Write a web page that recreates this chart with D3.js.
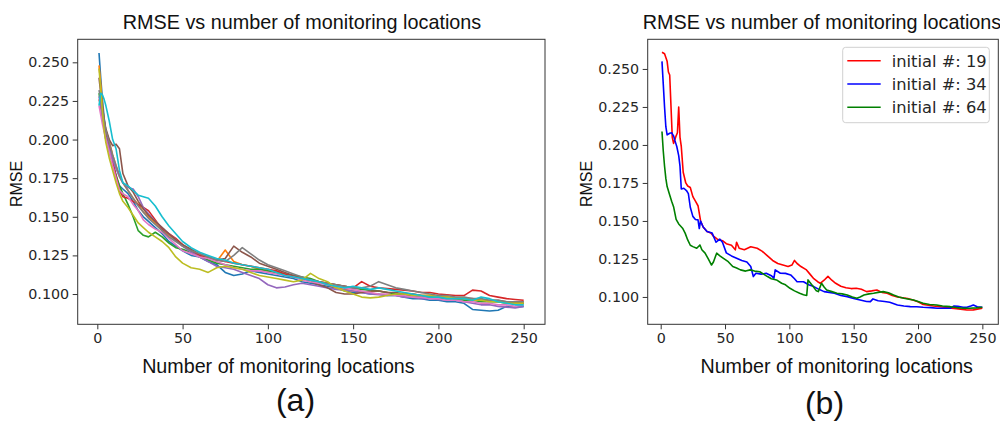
<!DOCTYPE html>
<html><head><meta charset="utf-8">
<script src="https://cdn.jsdelivr.net/npm/d3@7"></script>
<style>html,body{margin:0;padding:0;background:#fff;} svg{display:block;}</style>
</head><body>
<svg id="chart" width="1000" height="423"></svg>
<script>
// ---------- text ----------
const titleText = "RMSE vs number of monitoring locations";
const xLabelText = "Number of monitoring locations";
const yLabelText = "RMSE";
const panelLabels = ["(a)", "(b)"];
const xTickValues = [0, 50, 100, 150, 200, 250];
const yTickValues = [0.100, 0.125, 0.150, 0.175, 0.200, 0.225, 0.250];

// ---------- panel (a): 10 runs ----------
const locA = [1,2,3,4,5,7,9,11,13,15,18,21,24,27,30,34,38,42,46,50,
  55,60,65,70,75,80,85,90,95,100,105,110,115,120,125,130,135,140,145,150,
  155,160,165,170,175,180,185,190,195,200,205,210,215,220,225,230,235,240,245,250];
const runA1 = [0.256,0.240,0.226,0.214,0.205, 0.194,0.185,0.176,0.170,0.168, 0.165,0.160,0.154,0.150,0.147, 0.143,0.139,0.134,0.131,0.128,
  0.125,0.124,0.121,0.119,0.114, 0.112,0.113,0.115,0.114,0.113, 0.112,0.111,0.110,0.108,0.107, 0.106,0.105,0.104,0.102,0.101,
  0.101,0.100,0.100,0.099,0.099, 0.098,0.097,0.097,0.096,0.096, 0.095,0.095,0.094,0.090,0.0895, 0.089,0.0895,0.092,0.0915,0.092];
const runA2 = [0.248,0.236,0.222,0.212,0.206, 0.199,0.190,0.183,0.176,0.172, 0.167,0.162,0.158,0.153,0.150, 0.146,0.141,0.138,0.135,0.131,
  0.128,0.125,0.123,0.121,0.1285, 0.121,0.119,0.118,0.116,0.115, 0.114,0.112,0.111,0.110,0.109, 0.108,0.106,0.104,0.103,0.102,
  0.101,0.1015,0.102,0.101,0.100, 0.1005,0.100,0.099,0.099,0.098, 0.098,0.097,0.097,0.096,0.096, 0.0955,0.095,0.095,0.0945,0.094];
const runA3 = [0.230,0.222,0.214,0.207,0.200, 0.192,0.184,0.177,0.170,0.165, 0.158,0.150,0.141,0.138,0.137, 0.140,0.137,0.133,0.130,0.129,
  0.127,0.124,0.122,0.120,0.119, 0.118,0.117,0.116,0.116,0.115, 0.114,0.113,0.112,0.111,0.110, 0.108,0.107,0.106,0.105,0.104,
  0.103,0.1025,0.102,0.101,0.100, 0.099,0.099,0.098,0.098,0.097, 0.097,0.097,0.096,0.096,0.095, 0.095,0.095,0.094,0.094,0.094];
const runA4 = [0.226,0.222,0.216,0.210,0.204, 0.196,0.186,0.176,0.167,0.163, 0.162,0.160,0.158,0.156,0.154, 0.148,0.142,0.139,0.136,0.132,
  0.128,0.125,0.124,0.122,0.121, 0.120,0.119,0.118,0.117,0.116, 0.115,0.113,0.111,0.110,0.109, 0.108,0.107,0.106,0.105,0.104,
  0.108,0.105,0.104,0.1035,0.103, 0.1025,0.102,0.101,0.101,0.100, 0.0995,0.099,0.099,0.1025,0.102, 0.099,0.098,0.097,0.0965,0.096];
const runA5 = [0.228,0.222,0.215,0.208,0.202, 0.194,0.187,0.181,0.176,0.172, 0.169,0.168,0.163,0.156,0.152, 0.147,0.143,0.139,0.135,0.131,
  0.127,0.124,0.121,0.118,0.117, 0.116,0.114,0.112,0.110,0.106, 0.104,0.1045,0.106,0.107,0.106, 0.105,0.104,0.103,0.1025,0.102,
  0.101,0.100,0.0995,0.099,0.099, 0.098,0.098,0.097,0.097,0.0965, 0.096,0.096,0.095,0.094,0.093, 0.093,0.092,0.0915,0.091,0.092];
const runA6 = [0.240,0.230,0.221,0.213,0.207, 0.200,0.196,0.197,0.194,0.178, 0.170,0.166,0.160,0.155,0.151, 0.147,0.143,0.139,0.135,0.132,
  0.129,0.126,0.124,0.122,0.123, 0.131,0.127,0.124,0.120,0.118, 0.116,0.114,0.112,0.110,0.108, 0.106,0.104,0.101,0.100,0.100,
  0.101,0.102,0.102,0.101,0.101, 0.100,0.100,0.099,0.099,0.098, 0.098,0.097,0.097,0.097,0.096, 0.096,0.096,0.095,0.095,0.095];
const runA7 = [0.222,0.216,0.210,0.205,0.200, 0.192,0.183,0.175,0.167,0.165, 0.163,0.158,0.154,0.148,0.145, 0.142,0.140,0.136,0.132,0.128,
  0.126,0.124,0.123,0.121,0.119, 0.117,0.116,0.115,0.115,0.114, 0.113,0.112,0.111,0.109,0.108, 0.107,0.106,0.105,0.104,0.103,
  0.102,0.101,0.100,0.100,0.099, 0.099,0.098,0.098,0.097,0.097, 0.096,0.096,0.095,0.095,0.094, 0.094,0.093,0.093,0.092,0.093];
const runA8 = [0.232,0.226,0.219,0.212,0.206, 0.198,0.190,0.183,0.177,0.172, 0.167,0.162,0.157,0.153,0.149, 0.145,0.141,0.137,0.134,0.131,
  0.128,0.126,0.124,0.122,0.121, 0.125,0.130,0.126,0.122,0.119, 0.117,0.115,0.113,0.111,0.109, 0.108,0.107,0.106,0.105,0.104,
  0.104,0.105,0.108,0.106,0.104, 0.103,0.102,0.101,0.100,0.099, 0.099,0.098,0.098,0.097,0.097, 0.096,0.096,0.095,0.095,0.095];
const runA9 = [0.246,0.232,0.218,0.206,0.198, 0.188,0.180,0.172,0.165,0.160, 0.156,0.151,0.146,0.143,0.140, 0.137,0.134,0.130,0.124,0.120,
  0.117,0.116,0.114,0.117,0.118, 0.117,0.116,0.114,0.112,0.111, 0.110,0.109,0.108,0.109,0.1134, 0.110,0.108,0.104,0.102,0.100,
  0.098,0.0975,0.098,0.099,0.100, 0.100,0.099,0.099,0.099,0.098, 0.098,0.097,0.097,0.096,0.096, 0.095,0.095,0.094,0.094,0.094];
const runA10 = [0.222,0.230,0.229,0.226,0.222, 0.212,0.200,0.194,0.180,0.172, 0.170,0.167,0.164,0.163,0.162, 0.157,0.150,0.144,0.139,0.134,
  0.130,0.127,0.125,0.123,0.122, 0.120,0.119,0.118,0.117,0.116, 0.114,0.112,0.111,0.110,0.109, 0.108,0.106,0.105,0.104,0.105,
  0.104,0.103,0.104,0.103,0.102, 0.101,0.100,0.099,0.098,0.098, 0.097,0.097,0.097,0.096,0.098, 0.097,0.095,0.094,0.093,0.093];
const runColors = ["#1f77b4","#ff7f0e","#2ca02c","#d62728","#9467bd","#8c564b","#e377c2","#7f7f7f","#bcbd22","#17becf"];

// ---------- panel (b): 3 starting sizes ----------
const locB19 = [1,3,5,6,7,9,10,12,13,14,15,16,17.5,19.5,21,23,25,27,29,31,33,36,39,41,44,48,51,55,58,59,61,65,70,75,79,83,87,91,95,99,
  102,104,106,109,113,116,119,122,124,127,130,133,136,140,144,148,152,156,160,164,168,172,176,180,184,188,192,196,200,204,208,212,217,222,228,233,238,243,246,250];
const rmseB19 = [0.261,0.260,0.255,0.248,0.246,0.205,0.201,0.206,0.208,0.225,0.205,0.199,0.182,0.175,0.173,0.172,0.166,0.163,0.160,0.150,
  0.146,0.143,0.142,0.140,0.138,0.137,0.135,0.134,0.131,0.136,0.132,0.131,0.133,0.132,0.130,0.127,0.124,0.122,0.121,0.120,
  0.121,0.124,0.122,0.120,0.118,0.115,0.112,0.110,0.109,0.111,0.1135,0.111,0.109,0.107,0.106,0.1055,0.1057,0.105,0.1035,0.104,
  0.1046,0.103,0.1024,0.101,0.100,0.0995,0.099,0.098,0.0968,0.095,0.0945,0.094,0.0936,0.093,0.0925,0.092,0.0914,0.0915,0.092,0.0926];
const locB34 = [1,2,3,4,5,7,8.5,10,11,12.5,14,15,16,18,20,21.5,23,25,27,29,30,31,33,36,40,43,46,48,51,55,59,63,67,70,72,74,78,82,86,88,
  89,93,97,101,104,106,111,115,119,123,127,131,135,140,145,150,155,160,163,165,169,174,178,184,189,194,199,204,210,215,220,225,228,231,235,238,241,243,246,250];
const rmseB34 = [0.255,0.240,0.225,0.212,0.2066,0.2077,0.208,0.206,0.203,0.199,0.193,0.186,0.171,0.1715,0.170,0.168,0.159,0.153,0.151,0.1507,
  0.145,0.150,0.146,0.143,0.142,0.136,0.138,0.136,0.129,0.127,0.1255,0.124,0.123,0.120,0.1134,0.1156,0.115,0.1156,0.114,0.1123,
  0.1178,0.1156,0.1155,0.1145,0.112,0.110,0.110,0.108,0.1068,0.105,0.1035,0.103,0.1024,0.101,0.1002,0.099,0.098,0.097,0.0969,0.0987,
  0.0975,0.097,0.0965,0.0947,0.094,0.0936,0.0935,0.0932,0.093,0.0926,0.0926,0.0926,0.094,0.0938,0.0932,0.0932,0.094,0.0947,0.0935,0.0932];
const locB64 = [1,2,3,4,5,7,8.5,10,12,14,17,19,21,23,25,28,30.5,32,34.5,37,39.5,41,43.5,46,48.5,52.5,56,59,62,66,69.5,73,77,80,83,86,90,94,97,100.5,
  104,108,111,113.5,114.5,116.5,118.5,121,122.5,125,127,129,133,137,141,145,149,152.5,155,158,162,165.5,169,173,177,181,185,189,193,196.5,200,204,209,214.5,219,225,230,235,240,245,250];
const rmseB64 = [0.2088,0.196,0.186,0.178,0.1726,0.1671,0.163,0.1594,0.151,0.148,0.1452,0.142,0.1375,0.134,0.1331,0.132,0.1342,0.131,0.1288,0.125,
  0.121,0.123,0.1288,0.127,0.1255,0.1232,0.120,0.119,0.1178,0.117,0.1178,0.117,0.1166,0.115,0.1134,0.112,0.1112,0.109,0.108,0.1057,
  0.104,0.1024,0.1015,0.101,0.1112,0.109,0.1068,0.104,0.1035,0.109,0.1065,0.1046,0.1035,0.1024,0.102,0.1013,0.100,0.0991,0.100,0.1013,
  0.102,0.1024,0.103,0.1035,0.1028,0.1013,0.100,0.0991,0.0985,0.098,0.097,0.0958,0.095,0.0947,0.094,0.0936,0.093,0.0926,0.0926,0.0928,0.0932];
const legendLabels = ["initial #: 19", "initial #: 34", "initial #: 64"];
const legendColors = ["#ff0000", "#0000ff", "#008000"];

// ---------- drawing ----------
const svg = d3.select("#chart");
const ink = "#262626";
const tickFont = "'DejaVu Sans', sans-serif";
const labelFont = "'Liberation Sans', Arial, sans-serif";

function drawPanel(p) {
  const x = d3.scaleLinear().domain(p.xDomain).range([p.left, p.right]);
  const y = d3.scaleLinear().domain(p.yDomain).range([p.bottom, p.top]);
  const g = svg.append("g");

  const clipId = "clip" + p.id;
  g.append("clipPath").attr("id", clipId).append("rect")
    .attr("x", p.left).attr("y", p.top).attr("width", p.right - p.left).attr("height", p.bottom - p.top);

  const line = d3.line().x(d => x(d[0])).y(d => y(d[1]));
  const lines = g.append("g").attr("clip-path", `url(#${clipId})`);
  p.series.forEach(s => {
    lines.append("path")
      .datum(s.x.map((v, i) => [v, s.y[i]]))
      .attr("d", line).attr("fill", "none")
      .attr("stroke", s.color).attr("stroke-width", 1.6)
      .attr("stroke-linejoin", "round");
  });

  // frame
  g.append("rect").attr("x", p.left).attr("y", p.top)
    .attr("width", p.right - p.left).attr("height", p.bottom - p.top)
    .attr("fill", "none").attr("stroke", "#333").attr("stroke-width", 1);

  const xAxis = g.append("g").attr("transform", `translate(0,${p.bottom})`)
    .call(d3.axisBottom(x).tickValues(xTickValues).tickFormat(d3.format("d")).tickSize(5).tickSizeOuter(0).tickPadding(3.5));
  const yAxis = g.append("g").attr("transform", `translate(${p.left},0)`)
    .call(d3.axisLeft(y).tickValues(yTickValues).tickFormat(d3.format(".3f")).tickSize(5).tickSizeOuter(0).tickPadding(3.5));
  [xAxis, yAxis].forEach(a => {
    a.select(".domain").remove();
    a.selectAll("line").attr("stroke", "#333");
    a.selectAll("text").attr("fill", ink).style("font-family", tickFont).style("font-size", "14.3px");
  });

  svg.append("text").attr("x", p.titleX).attr("y", 29)
    .attr("text-anchor", "middle").attr("fill", "#111")
    .style("font-family", labelFont).style("font-size", "19.8px").text(titleText);
  svg.append("text").attr("x", p.xLabelX).attr("y", 372.7)
    .attr("text-anchor", "middle").attr("fill", "#111")
    .style("font-family", labelFont).style("font-size", "19.7px").text(xLabelText);
  svg.append("text").attr("transform", `translate(${p.yLabelX},184) rotate(-90)`)
    .attr("text-anchor", "middle").attr("fill", "#111")
    .style("font-family", labelFont).style("font-size", "16px").text(yLabelText);
  svg.append("text").attr("x", p.tagX).attr("y", p.tagY)
    .attr("text-anchor", "middle").attr("fill", "#111")
    .style("font-family", labelFont).style("font-size", "32px").text(p.tag);
  return {x, y};
}

const seriesA = [runA1, runA2, runA3, runA4, runA5, runA6, runA7, runA8, runA9, runA10]
  .map((r, i) => ({x: locA, y: r, color: runColors[i]}));
drawPanel({
  id: "a", left: 77.7, right: 545, top: 39.3, bottom: 324.3,
  xDomain: [-11.5, 262.5], yDomain: [0.0804, 0.2649],
  series: seriesA, titleX: 302, xLabelX: 278.4, yLabelX: 22,
  tag: panelLabels[0], tagX: 295.5, tagY: 411
});

const seriesB = [
  {x: locB19, y: rmseB19, color: legendColors[0]},
  {x: locB34, y: rmseB34, color: legendColors[1]},
  {x: locB64, y: rmseB64, color: legendColors[2]}
];
drawPanel({
  id: "b", left: 647.7, right: 998.3, top: 39.3, bottom: 324.3,
  xDomain: [-10.1, 262.4], yDomain: [0.0820, 0.2695],
  series: seriesB, titleX: 822, xLabelX: 836.7, yLabelX: 592,
  tag: panelLabels[1], tagX: 824.5, tagY: 414
});

// legend
const lg = svg.append("g");
lg.append("rect").attr("x", 842.7).attr("y", 47.3).attr("width", 146.6).attr("height", 75.4)
  .attr("rx", 3).attr("fill", "#fff").attr("fill-opacity", 0.85)
  .attr("stroke", "#d0d0d0").attr("stroke-width", 1);
legendLabels.forEach((lab, i) => {
  const yy = 60.7 + i * 23.3;
  lg.append("line").attr("x1", 847.3).attr("x2", 880.7).attr("y1", yy).attr("y2", yy)
    .attr("stroke", legendColors[i]).attr("stroke-width", 1.6);
  lg.append("text").attr("x", 891.7).attr("y", yy).attr("dy", "0.36em")
    .attr("fill", ink).style("font-family", tickFont).style("font-size", "16.3px").text(lab);
});
</script>
</body></html>
